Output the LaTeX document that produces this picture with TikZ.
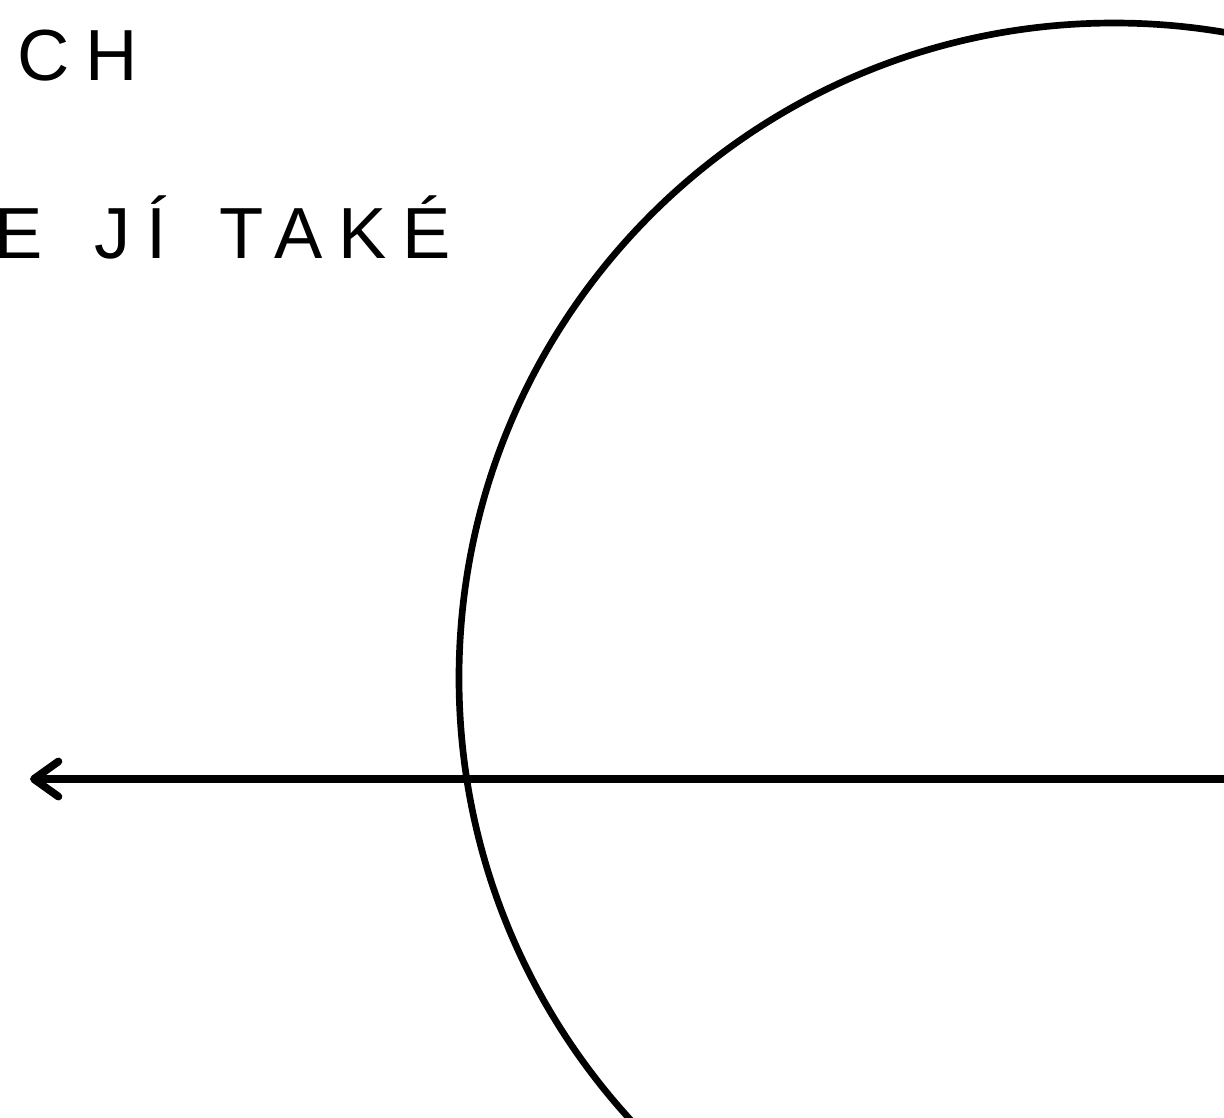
\documentclass[tikz,border=0pt]{standalone}
\usepackage{fontspec}
\setmainfont{Liberation Sans}[LetterSpace=22,WordSpace=1.45]
\usetikzlibrary{arrows.meta}

\begin{document}
\begin{tikzpicture}[x=0.02cm,y=-0.02cm,>={Straight Barb[length=14pt,width=20pt,round]},
    caption/.style={anchor=base west, inner sep=0pt, font=\fontsize{41.2}{48}\selectfont}]
        % Frame
        \useasboundingbox (0,0) rectangle (1224,1117);
        \clip (0,0) rectangle (1224,1117);

        % Text
        \node (line1) [caption] at (-47,80) {ÝCH};
        \node (line2) [caption] at (-6,258) {E JÍ TAKÉ};

        % Circle
        \draw[line width=3.8pt] (1114,678) circle (655);

        % Arrow
        \coordinate (arrowstart) at (1260,779);
        \coordinate (arrowtip) at (30,779);
        \draw[->, line width=4.4pt] (arrowstart) -- (arrowtip);

    \end{tikzpicture}
\end{document}
